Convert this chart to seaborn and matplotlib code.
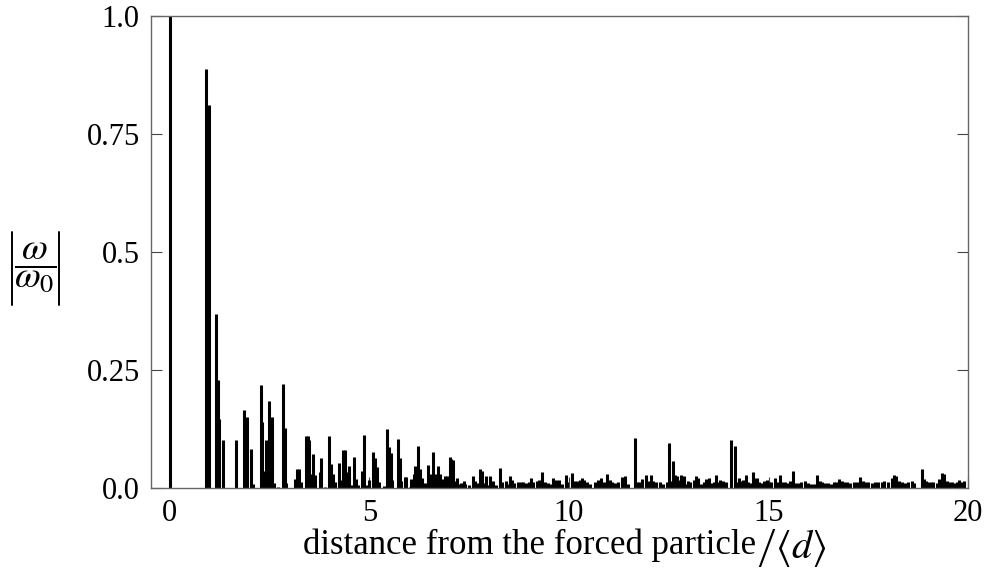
import matplotlib
matplotlib.use("Agg")
import matplotlib.pyplot as plt
import seaborn as sns
import numpy as np
from matplotlib.ticker import FixedLocator, FixedFormatter
from matplotlib.lines import Line2D

# ---- data ----
positions = [
    0.0, 0.905, 0.98, 1.155, 1.20, 1.23, 1.33, 1.66, 1.85, 1.88, 1.93, 2.04, 2.08,
    2.28, 2.31, 2.36, 2.40, 2.48, 2.51, 2.55, 2.61, 2.70, 2.83, 2.88, 2.91,
    3.14, 3.19, 3.25, 3.30, 3.41, 3.46, 3.49, 3.52, 3.60, 3.63, 3.76, 3.80, 3.90,
    4.00, 4.04, 4.09, 4.15, 4.23, 4.28, 4.35, 4.40, 4.44, 4.50, 4.55, 4.62, 4.66,
    4.72, 4.81, 4.86, 4.91, 5.00, 5.10, 5.14, 5.18, 5.23, 5.36, 5.44, 5.49, 5.54,
    5.57, 5.71, 5.76, 5.79, 5.89, 5.93, 6.02, 6.05, 6.11, 6.15, 6.23, 6.28, 6.31,
    6.39, 6.46, 6.51, 6.59, 6.63, 6.67, 6.73, 6.77, 6.85, 6.90, 6.95, 7.01, 7.05,
    7.09, 7.15, 7.20, 7.25, 7.30, 7.36, 7.40, 7.50, 7.60, 7.65, 7.70, 7.77, 7.81,
    7.86, 7.91, 7.95,
    8.03, 8.10, 8.16, 8.27, 8.32, 8.42, 8.46, 8.52, 8.58, 8.62, 8.72, 8.79, 8.85,
    8.92, 8.99, 9.05, 9.11, 9.21, 9.26, 9.33, 9.39, 9.48, 9.53, 9.61, 9.67, 9.74,
    9.82, 9.92, 9.96, 10.07, 10.12, 10.20, 10.27, 10.33, 10.38, 10.45, 10.53,
    10.65, 10.72, 10.81, 10.87, 10.96, 11.02, 11.08, 11.16, 11.24, 11.33, 11.41,
    11.49, 11.65, 11.70, 11.76, 11.84, 11.94, 11.98, 12.05, 12.10, 12.18,
    12.27, 12.35, 12.45, 12.50, 12.55, 12.61, 12.66, 12.70, 12.76, 12.81, 12.87,
    12.91, 12.97, 13.03, 13.12, 13.17, 13.22, 13.30, 13.38, 13.44, 13.50, 13.57,
    13.62, 13.69, 13.74, 13.79, 13.85, 13.93, 14.06, 14.16, 14.21, 14.26, 14.32,
    14.37, 14.44, 14.49, 14.54, 14.60, 14.64, 14.70, 14.75, 14.81, 14.89, 14.95,
    15.00, 15.07, 15.15, 15.20, 15.28, 15.34, 15.40, 15.49, 15.54, 15.61, 15.66,
    15.74, 15.82, 15.90, 15.98, 16.06, 16.14, 16.22, 16.29, 16.35, 16.42,
    16.50, 16.56, 16.65, 16.70, 16.77, 16.83, 16.89, 16.97, 17.05, 17.14, 17.22,
    17.30, 17.36, 17.42, 17.50, 17.59, 17.67, 17.75, 17.84, 17.90, 18.00, 18.08,
    18.14, 18.19, 18.26, 18.33, 18.41, 18.50, 18.60, 18.64, 18.83, 18.88, 18.94,
    19.00, 19.06, 19.13, 19.21, 19.27, 19.34, 19.40, 19.46, 19.53, 19.59, 19.66,
    19.72, 19.78, 19.84, 19.89,
]
amplitudes = [
    1.0, 0.887, 0.8125, 0.368, 0.23, 0.147, 0.103, 0.101, 0.166, 0.093, 0.151, 0.083, 0.008,
    0.218, 0.14, 0.036, 0.101, 0.184, 0.04, 0.151, 0.01, 0.003, 0.22, 0.127, 0.011,
    0.02, 0.04, 0.04, 0.012, 0.11, 0.111, 0.101, 0.03, 0.073, 0.027, 0.035, 0.064, 0.003,
    0.11, 0.052, 0.03, 0.012, 0.054, 0.018, 0.08, 0.08, 0.035, 0.047, 0.007, 0.065, 0.02,
    0.006, 0.036, 0.112, 0.007, 0.018, 0.077, 0.064, 0.045, 0.012, 0.005, 0.126, 0.087, 0.075,
    0.018, 0.105, 0.064, 0.016, 0.023, 0.023, 0.003, 0.02, 0.03, 0.047, 0.09, 0.04, 0.022,
    0.01, 0.048, 0.03, 0.076, 0.02, 0.03, 0.047, 0.03, 0.02, 0.025, 0.025, 0.066, 0.062,
    0.059, 0.016, 0.022, 0.008, 0.01, 0.016, 0.008, 0.007, 0.025, 0.016, 0.01, 0.04, 0.037,
    0.01, 0.025, 0.007,
    0.025, 0.016, 0.006, 0.042, 0.012, 0.015, 0.008, 0.026, 0.017, 0.01, 0.012, 0.014, 0.014,
    0.011, 0.012, 0.022, 0.012, 0.016, 0.018, 0.034, 0.012, 0.011, 0.009, 0.022, 0.018, 0.017,
    0.009, 0.028, 0.012, 0.032, 0.015, 0.015, 0.018, 0.022, 0.018, 0.012, 0.008,
    0.014, 0.018, 0.022, 0.012, 0.03, 0.018, 0.012, 0.011, 0.012, 0.023, 0.025,
    0.009, 0.107, 0.014, 0.012, 0.02, 0.028, 0.015, 0.028, 0.016, 0.012,
    0.012, 0.008, 0.014, 0.096, 0.015, 0.057, 0.028, 0.025, 0.018, 0.027, 0.025,
    0.009, 0.016, 0.014, 0.018, 0.025, 0.022, 0.009, 0.014, 0.02, 0.022, 0.01,
    0.012, 0.028, 0.014, 0.018, 0.015, 0.012, 0.102, 0.089, 0.012, 0.022, 0.016,
    0.018, 0.028, 0.012, 0.01, 0.035, 0.022, 0.022, 0.012, 0.01, 0.016, 0.018,
    0.014, 0.014, 0.022, 0.012, 0.028, 0.014, 0.012, 0.01, 0.016, 0.036, 0.01,
    0.01, 0.012, 0.016, 0.01, 0.009, 0.008, 0.027, 0.016, 0.014, 0.01,
    0.01, 0.009, 0.012, 0.014, 0.02, 0.016, 0.014, 0.012, 0.01, 0.012, 0.014,
    0.023, 0.016, 0.012, 0.012, 0.01, 0.014, 0.012, 0.014, 0.016, 0.012, 0.022,
    0.027, 0.026, 0.016, 0.012, 0.01, 0.012, 0.016, 0.01, 0.04, 0.02, 0.016,
    0.014, 0.012, 0.014, 0.01, 0.02, 0.032, 0.03, 0.016, 0.012, 0.014, 0.01,
    0.012, 0.018, 0.012, 0.016,
]
x_ticks = [0, 5, 10, 15, 20]
x_ticklabels = ["0", "5", "10", "15", "20"]
y_ticks = [0.0, 0.25, 0.5, 0.75, 1.0]
y_ticklabels = ["0.0", "0.25", "0.5", "0.75", "1.0"]
xlabel_text = "distance from the forced particle"
xlabel_suffix = r"$\left/\left\langle d\right\rangle\right.$"
ylabel_text = r"$\dfrac{\omega}{\omega_0}$"

sns.set_theme(style="ticks")
plt.rcParams["font.family"] = ["Liberation Serif", "DejaVu Serif"]
plt.rcParams["mathtext.fontset"] = "stix"
plt.rcParams["text.color"] = "black"

fig, ax = plt.subplots(figsize=(9.9, 5.77), dpi=100)
fig.subplots_adjust(left=0.1525, right=0.978, bottom=0.154, top=0.972)

ax.vlines(positions, 0, amplitudes, colors="black", linewidth=2.2)

ax.set_xlim(-0.47, 20.0)
ax.set_ylim(0, 1.0)

ax.xaxis.set_major_locator(FixedLocator(x_ticks))
ax.xaxis.set_major_formatter(FixedFormatter(x_ticklabels))
ax.yaxis.set_major_locator(FixedLocator(y_ticks))
ax.yaxis.set_major_formatter(FixedFormatter(y_ticklabels))

ax.tick_params(axis="both", direction="in", length=8, width=0.8, color="#444444",
               labelsize=22, labelcolor="black", pad=8)
ax.tick_params(axis="y", right=True, labelright=False)
ax.tick_params(axis="x", top=False)

for s in ax.spines.values():
    s.set_color("#666666")
    s.set_linewidth(1.0)

# x label: main text plus a larger "/<d>" part
base_y = 1 - 554 / 577
t1 = fig.text(0.306, base_y, xlabel_text, fontsize=25, color="black",
              ha="left", va="baseline")
fig.canvas.draw()
bb = t1.get_window_extent(renderer=fig.canvas.get_renderer())
x_end = bb.x1 / fig.bbox.width
fig.text(x_end + 0.001, base_y - 4 / 577, xlabel_suffix, fontsize=29, color="black",
         ha="left", va="baseline")

# y label: |omega / omega_0|
fig.text(35 / 990, 1 - 268 / 577, ylabel_text, fontsize=27, color="black",
         ha="center", va="center")
for xb in (12, 59):
    fig.add_artist(Line2D([xb / 990, xb / 990], [1 - 232 / 577, 1 - 305 / 577],
                          color="black", linewidth=1.4, transform=fig.transFigure))

fig.savefig("out.png", dpi=100)
